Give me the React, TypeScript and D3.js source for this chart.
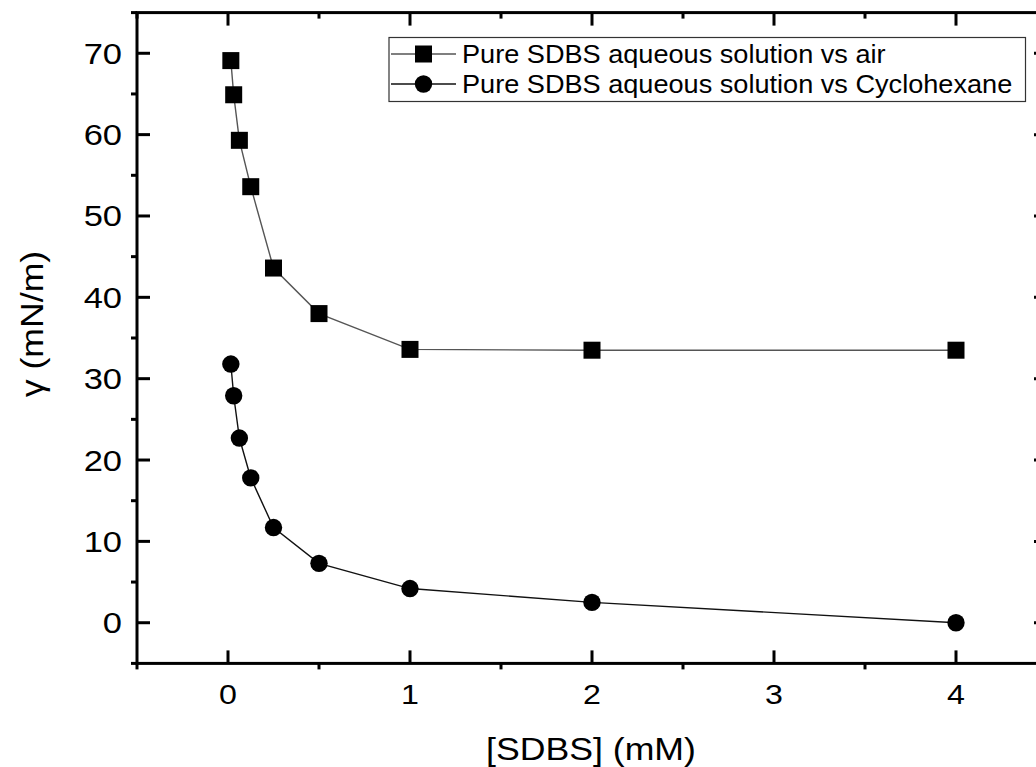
import React from "react";
import * as d3 from "d3";

// SDBS concentration (mM)
const concentrations = [0.015625, 0.03125, 0.0625, 0.125, 0.25, 0.5, 1, 2, 4];
// Surface tension against air (mN/m)
const gammaAir = [69.1, 64.9, 59.3, 53.6, 43.6, 38.0, 33.6, 33.5, 33.5];
// Interfacial tension against cyclohexane (mN/m)
const gammaCyclohexane = [31.8, 27.9, 22.7, 17.8, 11.7, 7.3, 4.2, 2.5, 0.0];

const xMajorTicks = [0, 1, 2, 3, 4];
const xMinorTicks = [-0.5, 0.5, 1.5, 2.5, 3.5, 4.5];
const yMajorTicks = [0, 10, 20, 30, 40, 50, 60, 70];
const yMinorTicks = [-5, 5, 15, 25, 35, 45, 55, 65, 75];

const seriesNames = [
  "Pure SDBS aqueous solution vs air",
  "Pure SDBS aqueous solution vs Cyclohexane",
];

const W = 1036;
const H = 767;
const FONT = "'Liberation Sans', Arial, sans-serif";

export default function App() {
  const x = d3.scaleLinear().domain([-0.5, 4.5]).range([137, 1047]);
  const y = d3.scaleLinear().domain([-5, 75]).range([663.4, 12.6]);
  const [x0, x1] = x.range();
  const [y0, y1] = y.range();

  const line = d3
    .line<[number, number]>()
    .x((d) => x(d[0]))
    .y((d) => y(d[1]))
    .curve(d3.curveLinear);

  const airPts = concentrations.map((c, i) => [c, gammaAir[i]] as [number, number]);
  const cyPts = concentrations.map((c, i) => [c, gammaCyclohexane[i]] as [number, number]);

  const majorLen = 13;
  const minorLen = 6;
  const sq = 17;
  const r = 8.7;

  // text drawn slightly wider than the plain font
  const stretched = (
    tx: number,
    ty: number,
    content: string,
    anchor: string,
    size: number,
    sx = 1.15,
    rot = 0
  ) => (
    <g transform={`translate(${tx},${ty}) rotate(${rot}) scale(${sx},1)`}>
      <text textAnchor={anchor} fontSize={size} fontFamily={FONT} fill="#000">
        {content}
      </text>
    </g>
  );

  return (
    <svg width={W} height={H} style={{ position: "absolute", left: 0, top: 0, background: "#fff" }}>
      <rect width={W} height={H} fill="#fff" />

      {/* data curves */}
      <path d={line(airPts) || ""} fill="none" stroke="#555" strokeWidth={1.4} />
      <path d={line(cyPts) || ""} fill="none" stroke="#111" strokeWidth={1.4} />
      {airPts.map((p, i) => (
        <rect key={`s${i}`} x={x(p[0]) - sq / 2} y={y(p[1]) - sq / 2} width={sq} height={sq} fill="#000" />
      ))}
      {cyPts.map((p, i) => (
        <circle key={`c${i}`} cx={x(p[0])} cy={y(p[1])} r={r} fill="#000" />
      ))}

      {/* frame */}
      <rect x={x0} y={y1} width={x1 - x0} height={y0 - y1} fill="none" stroke="#000" strokeWidth={3} />

      {/* x ticks */}
      {xMajorTicks.map((t) => (
        <g key={`xm${t}`}>
          <line x1={x(t)} x2={x(t)} y1={y0} y2={y0 - majorLen} stroke="#000" strokeWidth={3} />
          <line x1={x(t)} x2={x(t)} y1={y1} y2={y1 + majorLen} stroke="#000" strokeWidth={3} />
          {stretched(x(t), 704, String(t), "middle", 28)}
        </g>
      ))}
      {xMinorTicks.map((t) => (
        <g key={`xn${t}`}>
          <line x1={x(t)} x2={x(t)} y1={y0} y2={y0 + minorLen} stroke="#000" strokeWidth={3} />
          <line x1={x(t)} x2={x(t)} y1={y1} y2={y1 + minorLen} stroke="#000" strokeWidth={3} />
        </g>
      ))}

      {/* y ticks */}
      {yMajorTicks.map((t) => (
        <g key={`ym${t}`}>
          <line x1={x0} x2={x0 + majorLen} y1={y(t)} y2={y(t)} stroke="#000" strokeWidth={3} />
          <line x1={x1} x2={x1 - majorLen} y1={y(t)} y2={y(t)} stroke="#000" strokeWidth={3} />
          {stretched(122, y(t) + 10.5, String(t), "end", 30)}
        </g>
      ))}
      {yMinorTicks.map((t) => (
        <g key={`yn${t}`}>
          <line x1={x0} x2={x0 - minorLen} y1={y(t)} y2={y(t)} stroke="#000" strokeWidth={3} />
          <line x1={x1} x2={x1 + minorLen} y1={y(t)} y2={y(t)} stroke="#000" strokeWidth={3} />
        </g>
      ))}

      {/* axis titles */}
      {stretched(591, 760, "[SDBS] (mM)", "middle", 31)}
      {stretched(43, 324, "\u03b3 (mN/m)", "middle", 31, 1.15, -90)}

      {/* legend */}
      <rect x={389} y={37.5} width={636.5} height={64} fill="#fff" stroke="#333" strokeWidth={1.2} />
      {seriesNames.map((name, i) => {
        const ly = 54 + i * 30;
        return (
          <g key={name}>
            <line x1={391} x2={456} y1={ly} y2={ly} stroke={i === 0 ? "#555" : "#111"} strokeWidth={1.4} />
            {i === 0 ? (
              <rect x={423.5 - sq / 2} y={ly - sq / 2} width={sq} height={sq} fill="#000" />
            ) : (
              <circle cx={423.5} cy={ly} r={r} fill="#000" />
            )}
            {stretched(462, ly + 9, name, "start", 25, 1.085)}
          </g>
        );
      })}
    </svg>
  );
}
